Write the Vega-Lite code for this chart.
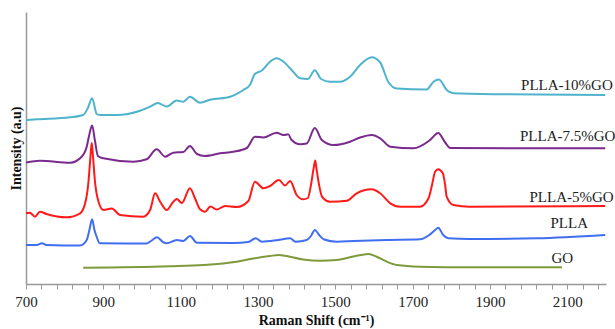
{
  "$schema": "https://vega.github.io/schema/vega-lite/v6.json",
  "autosize": {"type": "none"},
  "width": 580,
  "height": 272,
  "padding": {"left": 26, "top": 12, "right": 9, "bottom": 45},
  "background": "white",
  "config": {"view": {"stroke": null}, "axis": {"grid": false}},
  "datasets": {
    "spectra": [
      {"s":"PLLA-10%GO","x":700,"y":164},{"s":"PLLA-10%GO","x":728,"y":164.7},{"s":"PLLA-10%GO","x":814,"y":166.7},{"s":"PLLA-10%GO","x":848,"y":169},{"s":"PLLA-10%GO","x":860,"y":176},{"s":"PLLA-10%GO","x":871,"y":185.7},{"s":"PLLA-10%GO","x":883,"y":170},{"s":"PLLA-10%GO","x":891,"y":169},{"s":"PLLA-10%GO","x":935,"y":169},{"s":"PLLA-10%GO","x":995,"y":173.3},{"s":"PLLA-10%GO","x":1021,"y":177.3},{"s":"PLLA-10%GO","x":1041,"y":181},{"s":"PLLA-10%GO","x":1064,"y":177.5},{"s":"PLLA-10%GO","x":1090,"y":183.5},{"s":"PLLA-10%GO","x":1107,"y":182.3},{"s":"PLLA-10%GO","x":1124,"y":187.3},{"s":"PLLA-10%GO","x":1150,"y":181.3},{"s":"PLLA-10%GO","x":1176,"y":184.3},{"s":"PLLA-10%GO","x":1228,"y":187.3},{"s":"PLLA-10%GO","x":1262,"y":194},{"s":"PLLA-10%GO","x":1279,"y":199},{"s":"PLLA-10%GO","x":1292,"y":210},{"s":"PLLA-10%GO","x":1310,"y":213.5},{"s":"PLLA-10%GO","x":1331,"y":222.3},{"s":"PLLA-10%GO","x":1348,"y":225.7},{"s":"PLLA-10%GO","x":1366,"y":222.3},{"s":"PLLA-10%GO","x":1387,"y":214},{"s":"PLLA-10%GO","x":1409,"y":205.7},{"s":"PLLA-10%GO","x":1429,"y":205},{"s":"PLLA-10%GO","x":1447,"y":213.7},{"s":"PLLA-10%GO","x":1463,"y":205},{"s":"PLLA-10%GO","x":1486,"y":202.3},{"s":"PLLA-10%GO","x":1512,"y":202.3},{"s":"PLLA-10%GO","x":1538,"y":207.3},{"s":"PLLA-10%GO","x":1564,"y":219},{"s":"PLLA-10%GO","x":1594,"y":226.7},{"s":"PLLA-10%GO","x":1616,"y":221.5},{"s":"PLLA-10%GO","x":1637,"y":202},{"s":"PLLA-10%GO","x":1659,"y":195.5},{"s":"PLLA-10%GO","x":1736,"y":194.5},{"s":"PLLA-10%GO","x":1754,"y":202.3},{"s":"PLLA-10%GO","x":1768,"y":204.5},{"s":"PLLA-10%GO","x":1788,"y":194},{"s":"PLLA-10%GO","x":1805,"y":190.7},{"s":"PLLA-10%GO","x":1926,"y":189.7},{"s":"PLLA-10%GO","x":2198,"y":189},

      {"s":"PLLA-7.5%GO","x":700,"y":121.5},{"s":"PLLA-7.5%GO","x":736,"y":123.3},{"s":"PLLA-7.5%GO","x":814,"y":121.3},{"s":"PLLA-7.5%GO","x":844,"y":127.3},{"s":"PLLA-7.5%GO","x":857,"y":137.3},{"s":"PLLA-7.5%GO","x":863,"y":148},{"s":"PLLA-7.5%GO","x":871,"y":158.5},{"s":"PLLA-7.5%GO","x":878,"y":144},{"s":"PLLA-7.5%GO","x":886,"y":128},{"s":"PLLA-7.5%GO","x":900,"y":125.7},{"s":"PLLA-7.5%GO","x":978,"y":122.3},{"s":"PLLA-7.5%GO","x":1012,"y":124.7},{"s":"PLLA-7.5%GO","x":1038,"y":134.7},{"s":"PLLA-7.5%GO","x":1060,"y":127.3},{"s":"PLLA-7.5%GO","x":1081,"y":131.3},{"s":"PLLA-7.5%GO","x":1107,"y":132},{"s":"PLLA-7.5%GO","x":1124,"y":138},{"s":"PLLA-7.5%GO","x":1142,"y":130},{"s":"PLLA-7.5%GO","x":1163,"y":128},{"s":"PLLA-7.5%GO","x":1202,"y":130.7},{"s":"PLLA-7.5%GO","x":1236,"y":132.3},{"s":"PLLA-7.5%GO","x":1271,"y":136},{"s":"PLLA-7.5%GO","x":1292,"y":147.3},{"s":"PLLA-7.5%GO","x":1314,"y":146.5},{"s":"PLLA-7.5%GO","x":1348,"y":151.3},{"s":"PLLA-7.5%GO","x":1366,"y":149},{"s":"PLLA-7.5%GO","x":1378,"y":149.7},{"s":"PLLA-7.5%GO","x":1387,"y":144},{"s":"PLLA-7.5%GO","x":1409,"y":139.7},{"s":"PLLA-7.5%GO","x":1426,"y":140.5},{"s":"PLLA-7.5%GO","x":1447,"y":156},{"s":"PLLA-7.5%GO","x":1465,"y":144},{"s":"PLLA-7.5%GO","x":1495,"y":139},{"s":"PLLA-7.5%GO","x":1538,"y":142.3},{"s":"PLLA-7.5%GO","x":1564,"y":146.5},{"s":"PLLA-7.5%GO","x":1594,"y":149},{"s":"PLLA-7.5%GO","x":1616,"y":145.7},{"s":"PLLA-7.5%GO","x":1642,"y":137.3},{"s":"PLLA-7.5%GO","x":1702,"y":135.7},{"s":"PLLA-7.5%GO","x":1745,"y":144},{"s":"PLLA-7.5%GO","x":1766,"y":151},{"s":"PLLA-7.5%GO","x":1784,"y":141.5},{"s":"PLLA-7.5%GO","x":1797,"y":136},{"s":"PLLA-7.5%GO","x":2198,"y":135.7},

      {"s":"PLLA-5%GO","x":700,"y":70.7},{"s":"PLLA-5%GO","x":710,"y":71.3},{"s":"PLLA-5%GO","x":723,"y":67.3},{"s":"PLLA-5%GO","x":736,"y":72.3},{"s":"PLLA-5%GO","x":753,"y":70},{"s":"PLLA-5%GO","x":805,"y":66.7},{"s":"PLLA-5%GO","x":840,"y":70.7},{"s":"PLLA-5%GO","x":855,"y":84},{"s":"PLLA-5%GO","x":862,"y":104},{"s":"PLLA-5%GO","x":867,"y":129},{"s":"PLLA-5%GO","x":870,"y":141},{"s":"PLLA-5%GO","x":873,"y":129},{"s":"PLLA-5%GO","x":878,"y":104},{"s":"PLLA-5%GO","x":885,"y":86},{"s":"PLLA-5%GO","x":900,"y":74},{"s":"PLLA-5%GO","x":922,"y":75.5},{"s":"PLLA-5%GO","x":943,"y":69},{"s":"PLLA-5%GO","x":1003,"y":67.3},{"s":"PLLA-5%GO","x":1021,"y":74},{"s":"PLLA-5%GO","x":1034,"y":90.7},{"s":"PLLA-5%GO","x":1047,"y":82.3},{"s":"PLLA-5%GO","x":1064,"y":74},{"s":"PLLA-5%GO","x":1081,"y":82.3},{"s":"PLLA-5%GO","x":1090,"y":85},{"s":"PLLA-5%GO","x":1103,"y":81},{"s":"PLLA-5%GO","x":1124,"y":95.7},{"s":"PLLA-5%GO","x":1137,"y":85.7},{"s":"PLLA-5%GO","x":1150,"y":74.7},{"s":"PLLA-5%GO","x":1163,"y":72.3},{"s":"PLLA-5%GO","x":1177,"y":77.5},{"s":"PLLA-5%GO","x":1193,"y":74.5},{"s":"PLLA-5%GO","x":1215,"y":78},{"s":"PLLA-5%GO","x":1245,"y":77},{"s":"PLLA-5%GO","x":1275,"y":83},{"s":"PLLA-5%GO","x":1292,"y":102.3},{"s":"PLLA-5%GO","x":1314,"y":95.7},{"s":"PLLA-5%GO","x":1331,"y":98},{"s":"PLLA-5%GO","x":1354,"y":104},{"s":"PLLA-5%GO","x":1370,"y":98.5},{"s":"PLLA-5%GO","x":1383,"y":103},{"s":"PLLA-5%GO","x":1400,"y":89},{"s":"PLLA-5%GO","x":1417,"y":84.7},{"s":"PLLA-5%GO","x":1429,"y":86},{"s":"PLLA-5%GO","x":1437,"y":99},{"s":"PLLA-5%GO","x":1444,"y":116},{"s":"PLLA-5%GO","x":1448,"y":123.5},{"s":"PLLA-5%GO","x":1451,"y":116},{"s":"PLLA-5%GO","x":1458,"y":99},{"s":"PLLA-5%GO","x":1466,"y":87},{"s":"PLLA-5%GO","x":1486,"y":82.3},{"s":"PLLA-5%GO","x":1530,"y":83.3},{"s":"PLLA-5%GO","x":1555,"y":90.7},{"s":"PLLA-5%GO","x":1594,"y":94.7},{"s":"PLLA-5%GO","x":1616,"y":90.7},{"s":"PLLA-5%GO","x":1642,"y":80.7},{"s":"PLLA-5%GO","x":1667,"y":77.3},{"s":"PLLA-5%GO","x":1719,"y":77.3},{"s":"PLLA-5%GO","x":1741,"y":85.7},{"s":"PLLA-5%GO","x":1750,"y":99},{"s":"PLLA-5%GO","x":1758,"y":112.3},{"s":"PLLA-5%GO","x":1766,"y":114.7},{"s":"PLLA-5%GO","x":1778,"y":110.7},{"s":"PLLA-5%GO","x":1784,"y":99},{"s":"PLLA-5%GO","x":1788,"y":87.3},{"s":"PLLA-5%GO","x":1805,"y":79},{"s":"PLLA-5%GO","x":1848,"y":77.3},{"s":"PLLA-5%GO","x":2198,"y":78},

      {"s":"PLLA","x":700,"y":39},{"s":"PLLA","x":728,"y":39},{"s":"PLLA","x":741,"y":40.7},{"s":"PLLA","x":753,"y":39},{"s":"PLLA","x":840,"y":38.5},{"s":"PLLA","x":857,"y":44},{"s":"PLLA","x":864,"y":54},{"s":"PLLA","x":871,"y":64.7},{"s":"PLLA","x":877,"y":54},{"s":"PLLA","x":883,"y":47},{"s":"PLLA","x":891,"y":40.7},{"s":"PLLA","x":1012,"y":40.5},{"s":"PLLA","x":1023,"y":43},{"s":"PLLA","x":1039,"y":46.7},{"s":"PLLA","x":1054,"y":42},{"s":"PLLA","x":1064,"y":40.7},{"s":"PLLA","x":1090,"y":44},{"s":"PLLA","x":1107,"y":43},{"s":"PLLA","x":1124,"y":48},{"s":"PLLA","x":1142,"y":41.3},{"s":"PLLA","x":1236,"y":41},{"s":"PLLA","x":1275,"y":42},{"s":"PLLA","x":1294,"y":45.7},{"s":"PLLA","x":1310,"y":42.3},{"s":"PLLA","x":1352,"y":44},{"s":"PLLA","x":1383,"y":45.7},{"s":"PLLA","x":1397,"y":42.3},{"s":"PLLA","x":1426,"y":44},{"s":"PLLA","x":1437,"y":48},{"s":"PLLA","x":1447,"y":54},{"s":"PLLA","x":1458,"y":49},{"s":"PLLA","x":1471,"y":44.5},{"s":"PLLA","x":1504,"y":42.3},{"s":"PLLA","x":1547,"y":43},{"s":"PLLA","x":1633,"y":44},{"s":"PLLA","x":1719,"y":44.7},{"s":"PLLA","x":1741,"y":48.5},{"s":"PLLA","x":1758,"y":54},{"s":"PLLA","x":1766,"y":56.3},{"s":"PLLA","x":1779,"y":49},{"s":"PLLA","x":1792,"y":45.7},{"s":"PLLA","x":1848,"y":45},{"s":"PLLA","x":2021,"y":45.7},{"s":"PLLA","x":2198,"y":49},

      {"s":"GO","x":848,"y":16.3},{"s":"GO","x":1072,"y":17.7},{"s":"GO","x":1159,"y":19},{"s":"GO","x":1245,"y":22.3},{"s":"GO","x":1288,"y":25.5},{"s":"GO","x":1331,"y":28},{"s":"GO","x":1353,"y":29},{"s":"GO","x":1374,"y":28},{"s":"GO","x":1417,"y":24.5},{"s":"GO","x":1460,"y":23.2},{"s":"GO","x":1504,"y":24},{"s":"GO","x":1547,"y":27.5},{"s":"GO","x":1586,"y":30},{"s":"GO","x":1607,"y":27.3},{"s":"GO","x":1633,"y":22.3},{"s":"GO","x":1659,"y":19},{"s":"GO","x":1719,"y":17.3},{"s":"GO","x":1848,"y":16.7},{"s":"GO","x":2086,"y":16.7}
    ],
    "labels": [
      {"label":"PLLA-10%GO","x":2099,"y":199},
      {"label":"PLLA-7.5%GO","x":2101,"y":148},
      {"label":"PLLA-5%GO","x":2111,"y":87.3},
      {"label":"PLLA","x":2105,"y":61},
      {"label":"GO","x":2087,"y":26}
    ]
  },
  "resolve": {"axis": {"x": "independent"}},
  "layer": [
    {
      "data": {"name": "spectra"},
      "mark": {"type": "line", "strokeWidth": 2, "interpolate": "monotone"},
      "encoding": {
        "x": {
          "field": "x", "type": "quantitative",
          "scale": {"domain": [700, 2200], "nice": false, "zero": false},
          "axis": {
            "orient": "bottom",
            "title": "Raman Shift (cm⁻¹)",
            "titleFont": "Liberation Serif", "titleFontSize": 14, "titleFontWeight": "bold", "titleColor": "#111",
            "titlePadding": 4,
            "values": [700, 900, 1100, 1300, 1500, 1700, 1900, 2100],
            "format": "d",
            "labelFont": "Liberation Serif", "labelFontSize": 15, "labelColor": "#222",
            "labelOverlap": false, "labelPadding": 5, "labelFlush": false,
            "tickSize": 5, "tickColor": "#999", "domainColor": "#999", "domainWidth": 1.5
          }
        },
        "y": {
          "field": "y", "type": "quantitative",
          "scale": {"domain": [0, 272], "nice": false},
          "axis": {
            "title": "Intensity (a.u)",
            "titleFont": "Liberation Serif", "titleFontSize": 14, "titleFontWeight": "bold", "titleColor": "#111",
            "titlePadding": 3,
            "labels": false, "ticks": false,
            "domainColor": "#999", "domainWidth": 1.5
          }
        },
        "color": {
          "field": "s", "type": "nominal",
          "scale": {
            "domain": ["PLLA-10%GO", "PLLA-7.5%GO", "PLLA-5%GO", "PLLA", "GO"],
            "range": ["#4fb3cc", "#7a2a8c", "#ff1a1a", "#3f6ff0", "#7d9a3c"]
          },
          "legend": null
        },
        "detail": {"field": "s"}
      }
    },
    {
      "data": {"name": "labels"},
      "mark": {"type": "text", "font": "Liberation Serif", "fontSize": 15, "color": "#222", "align": "center", "baseline": "middle", "clip": false},
      "encoding": {
        "x": {
          "field": "x", "type": "quantitative",
          "axis": {
            "orient": "bottom",
            "title": null, "labels": false, "domain": false,
            "values": [740,780,820,860,940,980,1020,1060,1140,1180,1220,1260,1340,1380,1420,1460,1540,1580,1620,1660,1740,1780,1820,1860,1940,1980,2020,2060,2140,2180],
            "tickSize": 5, "tickColor": "#999"
          }
        },
        "y": {"field": "y", "type": "quantitative"},
        "text": {"field": "label"}
      }
    }
  ]
}
